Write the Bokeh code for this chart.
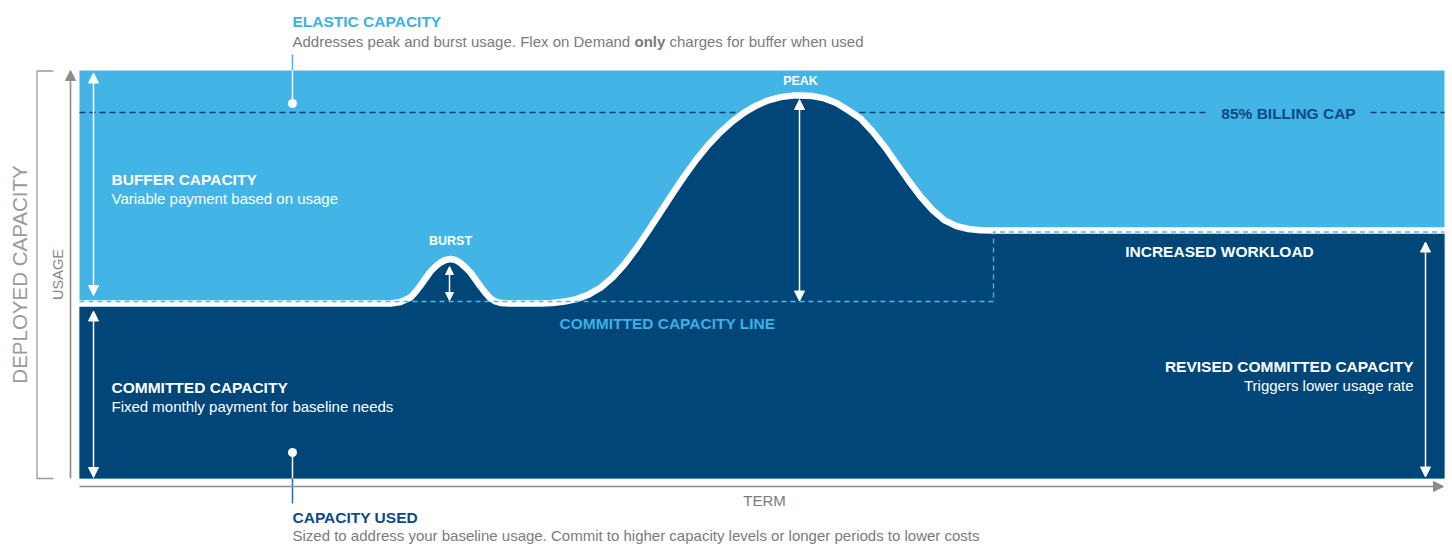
import math
from bokeh.plotting import figure
from bokeh.models import Range1d, Arrow, NormalHead
from bokeh.core.properties import value
from bokeh.embed import file_html
from bokeh.resources import INLINE

# ---------------- data (term units across, usage units up) ----------------
term = [0, 301, 311, 321, 331, 336, 341, 346, 351, 356, 361, 366, 371, 376, 381, 386,
        391, 396, 401, 406, 411, 416, 421, 431, 461, 473, 485, 497, 509, 521, 533, 545,
        557, 569, 581, 593, 605, 617, 629, 641, 653, 665, 677, 689, 701, 713, 721, 733,
        745, 757, 769, 781, 793, 805, 817, 829, 841, 853, 865, 877, 889, 901, 913, 1365]
usage = [175, 175, 175, 176.5, 181, 186.5, 193, 200, 207, 212, 216, 218.5, 219.5, 218.5,
         215.5, 211, 206, 199, 192, 185.5, 180, 177, 175.5, 175, 175, 175.6, 176.9, 179.4,
         183.9, 190.8, 201, 214.3, 230.2, 248, 266.4, 284.8, 302.6, 319.1, 333.7, 346.4,
         357.2, 366.1, 373.1, 378.2, 381.4, 382.9, 383, 382.4, 380.1, 375.5, 368, 360, 347,
         332, 315, 298, 282, 268.5, 258.1, 252.4, 249.5, 248.3, 248, 248]

deployed_top = 408          # top of deployed capacity
billing_cap = 366           # 85% billing cap level
committed_level = 177       # committed capacity line
revised_level = 246.5       # revised committed capacity
revision_term = 914         # term where commitment is revised
term_end = 1365

# ---------------- style ----------------
LIGHT = "#42B4E6"
DARK = "#004679"
LIGHT_TXT = "#3DB1E3"
NAVY = "#0D4A85"
GRAY = "#7B7B7B"
AXIS = "#8C8C8C"
FONT = value("Liberation Sans")
REG = "15px"
BOLD = "15.5px"

def X(px):
    return px - 79

def Y(py):
    return 478 - py

p = figure(width=1452, height=544, output_backend="svg", toolbar_location=None,
           x_range=Range1d(X(0), X(1452)), y_range=Range1d(Y(544), Y(0)),
           x_axis_type=None, y_axis_type=None, min_border=0,
           outline_line_color=None, background_fill_color="white",
           border_fill_color="white")
p.xgrid.grid_line_color = None
p.ygrid.grid_line_color = None

# elastic capacity area
p.quad(left=[0], right=[term_end], bottom=[0], top=[deployed_top],
       fill_color=LIGHT, line_color=None)

# 85% billing cap dashed line (with gap for label)
p.segment(x0=[0, X(1370)], y0=[billing_cap, billing_cap],
          x1=[X(1205), term_end], y1=[billing_cap, billing_cap],
          line_color="#0E3F73", line_width=1.3, line_dash="6 4")

# capacity used area
p.varea(x=term, y1=[0] * len(term), y2=usage, fill_color=DARK)

# usage curve
p.line(term, usage, line_color="white", line_width=6.5, line_join="round", line_cap="round")

# committed capacity line
p.line(x=[0, revision_term, revision_term, term_end],
       y=[committed_level, committed_level, revised_level, revised_level],
       line_color="#4DBBEA", line_width=1.3, line_dash="5 4")

# double-headed arrows
def darrow(x0, y0, x1, y1, color="white", size=10, both=True, width=1.5):
    end = NormalHead(size=size, fill_color=color, line_color=color, line_width=1)
    start = NormalHead(size=size, fill_color=color, line_color=color, line_width=1) if both else None
    p.add_layout(Arrow(start=start, end=end, x_start=x0, y_start=y0, x_end=x1, y_end=y1,
                       line_color=color, line_width=width))

darrow(X(93), Y(295), X(93), Y(72.5))                     # buffer capacity
darrow(X(93), Y(310.5), X(93), Y(477))                   # committed capacity
darrow(X(449), Y(300), X(449), Y(266), size=8)           # burst
darrow(X(799), Y(300.5), X(799), Y(99))                  # peak
darrow(X(1425), Y(476.5), X(1425), Y(241.5))             # revised committed

# axes
darrow(X(70), Y(478), X(70), Y(70), color=AXIS, both=False, width=1.6)
darrow(X(79), Y(486), X(1443), Y(486), color=AXIS, both=False, width=1.6)

# deployed capacity bracket
p.line(x=[X(53), X(36.5), X(36.5), X(53)], y=[Y(70.5), Y(70.5), Y(478), Y(478)],
       line_color="#9A9A9A", line_width=1.3)

# callouts
p.segment(x0=[X(292)], y0=[Y(54)], x1=[X(292)], y1=[Y(70)], line_color=LIGHT, line_width=1.5)
p.segment(x0=[X(292)], y0=[Y(70)], x1=[X(292)], y1=[Y(103)], line_color="white", line_width=1.5)
p.segment(x0=[X(292)], y0=[Y(452)], x1=[X(292)], y1=[Y(478)], line_color="white", line_width=1.5)
p.segment(x0=[X(292)], y0=[Y(478)], x1=[X(292)], y1=[Y(503)], line_color="#1A73B8", line_width=1.5)
p.scatter(x=[X(292), X(292)], y=[Y(103), Y(452)], size=9, fill_color="white", line_color=None)

# texts (py = vertical centre of the capitals)
def txt(t, px, py, color, size=REG, style="normal", align="left", baseline="alphabetic", angle=0):
    p.text(x=[X(px)], y=[Y(py - 0.5)], text=[t], text_color=color, text_font=FONT,
           text_font_size=size, text_font_style=style, text_align=align,
           text_baseline=baseline, angle=angle)

txt("ELASTIC CAPACITY", 292, 21.2, LIGHT_TXT, size=BOLD, style="bold")
txt("Addresses peak and burst usage. Flex on Demand ", 292, 41.3, GRAY)
txt("only", 634, 41.3, GRAY, style="bold")
txt("charges for buffer when used", 669, 41.3, GRAY)

txt("BUFFER CAPACITY", 111, 179.5, "white", size=BOLD, style="bold")
txt("Variable payment based on usage", 111, 198.2, "white")
txt("COMMITTED CAPACITY", 111, 387.3, "white", size=BOLD, style="bold")
txt("Fixed monthly payment for baseline needs", 111, 406.5, "white")

txt("BURST", 450, 241.3, "white", size="12.5px", style="bold", align="center")
txt("PEAK", 800, 80.5, "white", size="12.5px", style="bold", align="center")
txt("85% BILLING CAP", 1288, 113.7, NAVY, size=BOLD, style="bold", align="center")
txt("INCREASED WORKLOAD", 1219, 251.3, "white", size=BOLD, style="bold", align="center")
txt("COMMITTED CAPACITY LINE", 667, 323.8, LIGHT_TXT, size=BOLD, style="bold", align="center")

txt("REVISED COMMITTED CAPACITY", 1413, 366.7, "white", size=BOLD, style="bold", align="right")
txt("Triggers lower usage rate", 1413, 385.5, "white", align="right")

txt("TERM", 764, 500, GRAY, align="center")
txt("CAPACITY USED", 292, 517.5, NAVY, size=BOLD, style="bold")
txt("Sized to address your baseline usage. Commit to higher capacity levels or longer periods to lower costs",
    292, 535.3, GRAY)

txt("DEPLOYED CAPACITY", 19, 274.5, "#9A9A9A", size="20.5px", align="center", baseline="middle",
    angle=math.pi / 2)
txt("USAGE", 57.5, 274.5, "#888888", size="14.5px", align="center", baseline="middle",
    angle=math.pi / 2)

open("out.html", "w").write(file_html(p, INLINE))
